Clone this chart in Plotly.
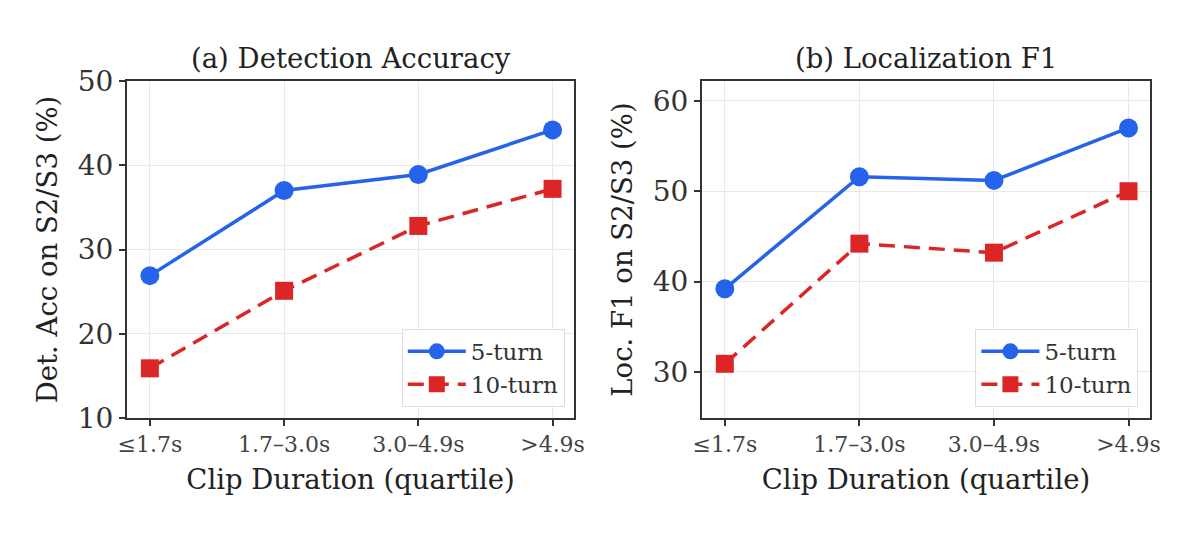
import plotly.graph_objects as go

# quartile buckets of clip duration
durations = ["≤1.7s", "1.7–3.0s", "3.0–4.9s", ">4.9s"]

det_5turn = [26.9, 37.0, 38.9, 44.2]
det_10turn = [15.9, 25.1, 32.8, 37.2]

loc_5turn = [39.2, 51.6, 51.2, 57.0]
loc_10turn = [30.9, 44.2, 43.2, 50.0]

BLUE = "#2563eb"
RED = "#dc2626"
FONT = "DejaVu Serif"

fig = go.Figure()

xs = list(range(len(durations)))
for ax, legend, y5, y10 in [("", "legend", det_5turn, det_10turn),
                            ("2", "legend2", loc_5turn, loc_10turn)]:
    fig.add_trace(go.Scatter(x=xs, y=y5, name="5-turn", mode="lines+markers",
                             line=dict(color=BLUE, width=3.5),
                             marker=dict(symbol="circle", size=19, color=BLUE),
                             xaxis="x" + ax, yaxis="y" + ax, legend=legend))
    fig.add_trace(go.Scatter(x=xs, y=y10, name="10-turn", mode="lines+markers",
                             line=dict(color=RED, width=3.5, dash="16px,9px"),
                             marker=dict(symbol="square", size=18, color=RED),
                             xaxis="x" + ax, yaxis="y" + ax, legend=legend))

axis_common = dict(showline=True, linecolor="#333", linewidth=2, mirror=True,
                   ticks="outside", ticklen=6, tickwidth=1.5, tickcolor="#333",
                   showgrid=True, gridcolor="#e8e8e8", gridwidth=1, zeroline=False,
                   automargin=False)
xcommon = dict(axis_common, tickvals=xs, ticktext=durations, range=[-0.17, 3.16],
               tickfont=dict(family=FONT, size=22, color="#444"),
               title=dict(text="Clip Duration (quartile)", standoff=13,
                          font=dict(family=FONT, size=27.5, color="#222")))
ytick = dict(family=FONT, size=28, color="#333")
ytitle_font = dict(family=FONT, size=27.5, color="#222")
legend_common = dict(xanchor="right", yanchor="bottom",
                     bgcolor="rgba(255,255,255,0.9)", bordercolor="#ddd", borderwidth=1,
                     font=dict(family=FONT, size=23, color="#333"),
                     itemwidth=58, tracegroupgap=2)

fig.update_layout(
    template="none",
    width=1200, height=542,
    margin=dict(l=0, r=0, t=0, b=0),
    paper_bgcolor="white", plot_bgcolor="white",
    font=dict(family=FONT, color="#222"),
    xaxis=dict(xcommon, domain=[0.0992, 0.4717], anchor="y"),
    yaxis=dict(axis_common, domain=[0.2435, 0.8653], anchor="x", range=[10, 50],
               dtick=10, tickfont=ytick,
               title=dict(text="Det. Acc on S2/S3 (%)", standoff=12, font=ytitle_font)),
    xaxis2=dict(xcommon, domain=[0.5783, 0.9517], anchor="y2"),
    yaxis2=dict(axis_common, domain=[0.2435, 0.8653], anchor="x2", range=[24.9, 62.2],
                tickvals=[30, 40, 50, 60], tickfont=ytick,
                title=dict(text="Loc. F1 on S2/S3 (%)", standoff=12, font=ytitle_font)),
    legend=dict(legend_common, x=0.464, y=0.264),
    legend2=dict(legend_common, x=0.942, y=0.264),
    annotations=[
        dict(text="(a) Detection Accuracy", x=0.2855, y=0.875, xref="paper", yref="paper",
             xanchor="center", yanchor="bottom", showarrow=False,
             font=dict(family=FONT, size=27.5, color="#222")),
        dict(text="(b) Localization F1", x=0.765, y=0.875, xref="paper", yref="paper",
             xanchor="center", yanchor="bottom", showarrow=False,
             font=dict(family=FONT, size=27.5, color="#222")),
    ],
)

fig.write_html("out.html")
